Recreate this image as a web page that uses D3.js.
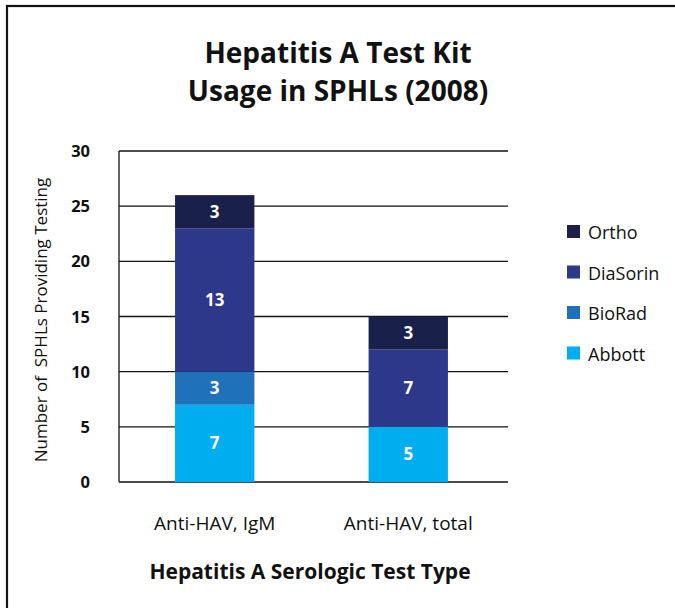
<!DOCTYPE html>
<html><head><meta charset="utf-8">
<script src="https://cdn.jsdelivr.net/npm/d3@7"></script>
<style>body{margin:0;background:#fff}svg{display:block}</style>
</head><body>
<svg id="c" width="675" height="608"></svg>
<script>
const categories = ["Anti-HAV, IgM", "Anti-HAV, total"];
const seriesNames = ["Abbott", "BioRad", "DiaSorin", "Ortho"];
const abbott = [7, 5];
const bioRad = [3, 0];
const diaSorin = [13, 7];
const ortho = [3, 3];
const yTicks = [0, 5, 10, 15, 20, 25, 30];
const colors = ["#00aeef", "#1f72ba", "#2d388a", "#19204a"];

const data = categories.map((c, i) => ({cat: c, Abbott: abbott[i], BioRad: bioRad[i], DiaSorin: diaSorin[i], Ortho: ortho[i]}));
const svg = d3.select("#c");
const font = "'Open Sans', sans-serif";

svg.append("rect").attr("x", 7).attr("y", 6).attr("width", 720).attr("height", 700)
  .attr("fill", "none").attr("stroke", "#111").attr("stroke-width", 2.2);

const x = d3.scaleBand().domain(categories).range([117, 506]).paddingInner(0.59).paddingOuter(0.3);
const y = d3.scaleLinear().domain([0, 30]).range([482, 151]);

// gridlines
svg.append("g").selectAll("line").data(yTicks).join("line")
  .attr("x1", 119).attr("x2", 508).attr("y1", d => y(d)).attr("y2", d => y(d))
  .attr("stroke", "#111").attr("stroke-width", 1.3);
svg.append("line").attr("x1", 119).attr("x2", 119).attr("y1", y(30)).attr("y2", y(0))
  .attr("stroke", "#111").attr("stroke-width", 1.3);

const stack = d3.stack().keys(seriesNames)(data);
const g = svg.append("g");
stack.forEach((s, si) => {
  g.selectAll(null).data(s.filter(d => d[1] - d[0] > 0)).join("rect")
    .attr("x", d => x(d.data.cat)).attr("width", x.bandwidth())
    .attr("y", d => y(d[1])).attr("height", d => y(d[0]) - y(d[1]))
    .attr("fill", colors[si]);
  g.selectAll(null).data(s.filter(d => d[1] - d[0] > 0)).join("text")
    .attr("x", d => x(d.data.cat) + x.bandwidth() / 2)
    .attr("y", d => (y(d[0]) + y(d[1])) / 2 + 6)
    .attr("text-anchor", "middle").attr("fill", "#fff")
    .attr("font-family", font).attr("font-weight", "bold").attr("font-size", 17)
    .text(d => d[1] - d[0]);
});

// y tick labels
svg.append("g").selectAll("text").data(yTicks).join("text")
  .attr("x", 90).attr("y", d => y(d) + 6).attr("text-anchor", "end")
  .attr("font-family", font).attr("font-weight", "bold").attr("font-size", 16.5).attr("fill", "#111")
  .text(d => d);

// x labels
svg.append("g").selectAll("text").data(categories).join("text")
  .attr("x", d => x(d) + x.bandwidth() / 2).attr("y", 530).attr("text-anchor", "middle")
  .attr("font-family", font).attr("font-size", 19).attr("fill", "#111").text(d => d);

svg.append("text").attr("x", 310).attr("y", 579).attr("text-anchor", "middle")
  .attr("font-family", font).attr("font-weight", "bold").attr("font-size", 21).attr("fill", "#111")
  .text("Hepatitis A Serologic Test Type");

svg.append("text").attr("transform", "translate(47,320) rotate(-90)").attr("text-anchor", "middle")
  .attr("font-family", font).attr("font-size", 17).attr("fill", "#111")
  .attr("xml:space", "preserve").style("white-space", "pre")
  .text("Number of  SPHLs Providing Testing");

// title
const title = svg.append("text").attr("text-anchor", "middle").attr("font-family", font)
  .attr("font-weight", "bold").attr("font-size", 28).attr("fill", "#111");
title.append("tspan").attr("x", 338).attr("y", 63).text("Hepatitis A Test Kit");
title.append("tspan").attr("x", 338).attr("y", 101).text("Usage in SPHLs (2008)");

// legend
const legendOrder = ["Ortho", "DiaSorin", "BioRad", "Abbott"];
const lg = svg.append("g").selectAll("g").data(legendOrder).join("g")
  .attr("transform", (d, i) => `translate(567,${225 + i * 40.5})`);
lg.append("rect").attr("width", 13).attr("height", 13).attr("fill", d => colors[seriesNames.indexOf(d)]);
lg.append("text").attr("x", 21).attr("y", 14).attr("font-family", font).attr("font-size", 18)
  .attr("fill", "#111").text(d => d);
</script>
</body></html>
